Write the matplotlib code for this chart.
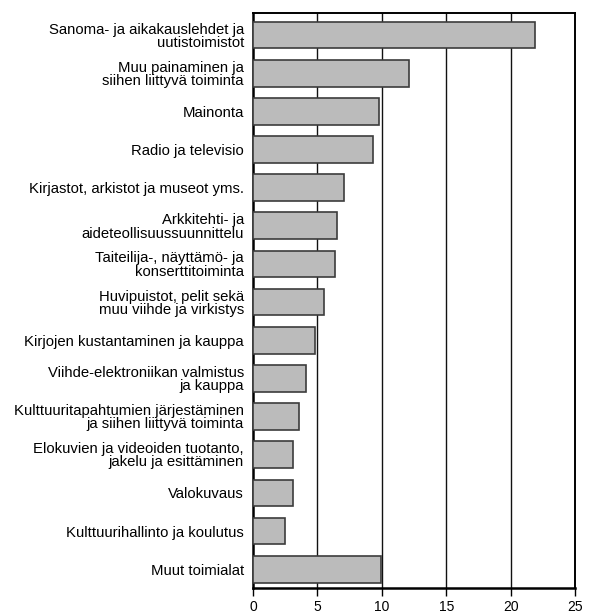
import matplotlib.pyplot as plt

labels = [
    'Sanoma- ja aikakauslehdet ja\nuutistoimistot',
    'Muu painaminen ja\nsiihen liittyvä toiminta',
    'Mainonta',
    'Radio ja televisio',
    'Kirjastot, arkistot ja museot yms.',
    'Arkkitehti- ja\naideteollisuussuunnittelu',
    'Taiteilija-, näyttämö- ja\nkonserttitoiminta',
    'Huvipuistot, pelit sekä\nmuu viihde ja virkistys',
    'Kirjojen kustantaminen ja kauppa',
    'Viihde-elektroniikan valmistus\nja kauppa',
    'Kulttuuritapahtumien järjestäminen\nja siihen liittyvä toiminta',
    'Elokuvien ja videoiden tuotanto,\njakelu ja esittäminen',
    'Valokuvaus',
    'Kulttuurihallinto ja koulutus',
    'Muut toimialat',
]
values = [21.9, 12.1, 9.8, 9.3, 7.1, 6.5, 6.4, 5.5, 4.8, 4.1, 3.6, 3.1, 3.1, 2.5, 9.9]
xticks = [0, 5, 10, 15, 20, 25]

plt.rcParams['font.family'] = ['Liberation Sans', 'DejaVu Sans']

fig = plt.figure(figsize=(5.93, 6.15), dpi=100)
ax = fig.add_axes([253/593, 1 - 588.3/615, 322/593, 575/615])

pos = list(range(len(values)))
ax.barh(pos, values, height=0.7, color='#bbbbbb', edgecolor='#3c3c3c', linewidth=1.2, zorder=3)

ax.set_xlim(0, 25)
ax.set_ylim(14.5, -0.57)
ax.set_xticks(xticks)
ax.set_xticklabels([str(t) for t in xticks], fontsize=10)
ax.set_yticks(pos)
ax.set_yticklabels(labels, fontsize=10.7, linespacing=0.93)
ax.tick_params(axis='y', length=0, pad=6.5)
ax.tick_params(axis='x', length=6, width=1, direction='out', pad=2.5)

for t in xticks[1:-1]:
    ax.axvline(t, color='#111111', linewidth=1.0, zorder=1)

for side in ['left', 'bottom']:
    ax.spines[side].set_linewidth(1.8)
for side in ['top', 'right']:
    ax.spines[side].set_linewidth(1.4)

fig.savefig('out.png', dpi=100)
